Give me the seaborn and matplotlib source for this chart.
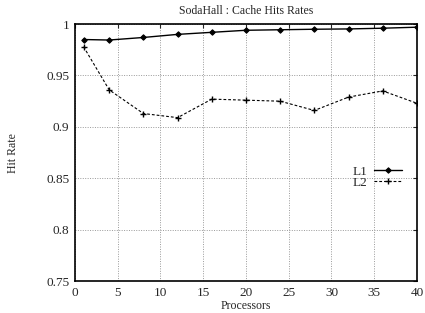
import pandas as pd
import numpy as np
import matplotlib
matplotlib.use("Agg")
import matplotlib.pyplot as plt
import seaborn as sns

processors = [1, 4, 8, 12, 16, 20, 24, 28, 32, 36, 40]
l1_rate = [0.985, 0.9845, 0.987, 0.990, 0.992, 0.994, 0.9945, 0.995, 0.9953, 0.996, 0.997]
l2_rate = [0.978, 0.936, 0.913, 0.909, 0.927, 0.926, 0.925, 0.916, 0.929, 0.935, 0.923]

sns.set_style("white")
plt.rcParams['font.family'] = ['Liberation Serif', 'DejaVu Serif']
plt.rcParams['font.size'] = 9

fig = plt.figure(figsize=(4.25, 3.13), dpi=100)
ax = fig.add_axes([0.1765, 0.102, 0.8045, 0.821])

# L1 solid with small diamonds, L2 dashed with plus marks
sns.lineplot(x=processors, y=l1_rate, color="black", linewidth=1.0, marker="D",
             markersize=2.8, markeredgecolor="black", label="L1", ax=ax)
sns.lineplot(x=processors, y=l2_rate, color="black", linewidth=0.8, linestyle=(0, (2.5, 1.8)),
             marker="+", markersize=4, markeredgewidth=1.0, markeredgecolor="black",
             label="L2", ax=ax)

ax.set_xlim(0, 40)
ax.set_ylim(0.75, 1.0)
ax.set_xticks(np.arange(0, 41, 5))
ax.set_yticks([0.75, 0.8, 0.85, 0.9, 0.95, 1.0])
ax.set_yticklabels(["0.75", "0.8", "0.85", "0.9", "0.95", "1"])
ax.grid(True, color="#999999", linestyle=(0, (1, 1.5)), linewidth=0.7)
ax.tick_params(direction="in", length=3, top=True, right=True, labelsize=9.5, pad=4)
for s in ax.spines.values():
    s.set_linewidth(1.2)
    s.set_color("black")

ax.set_title("SodaHall : Cache Hits Rates", fontsize=8.5, pad=7)
ax.set_xlabel("Processors", fontsize=8.5, labelpad=1)
ax.set_ylabel("Hit Rate", fontsize=8.5, labelpad=20)

leg = ax.legend(loc="center right", bbox_to_anchor=(0.975, 0.405), frameon=False,
                markerfirst=False, fontsize=9.5, handlelength=2.1, labelspacing=-0.08,
                handletextpad=0.5, borderpad=0)

plt.savefig("out.png", dpi=100)
